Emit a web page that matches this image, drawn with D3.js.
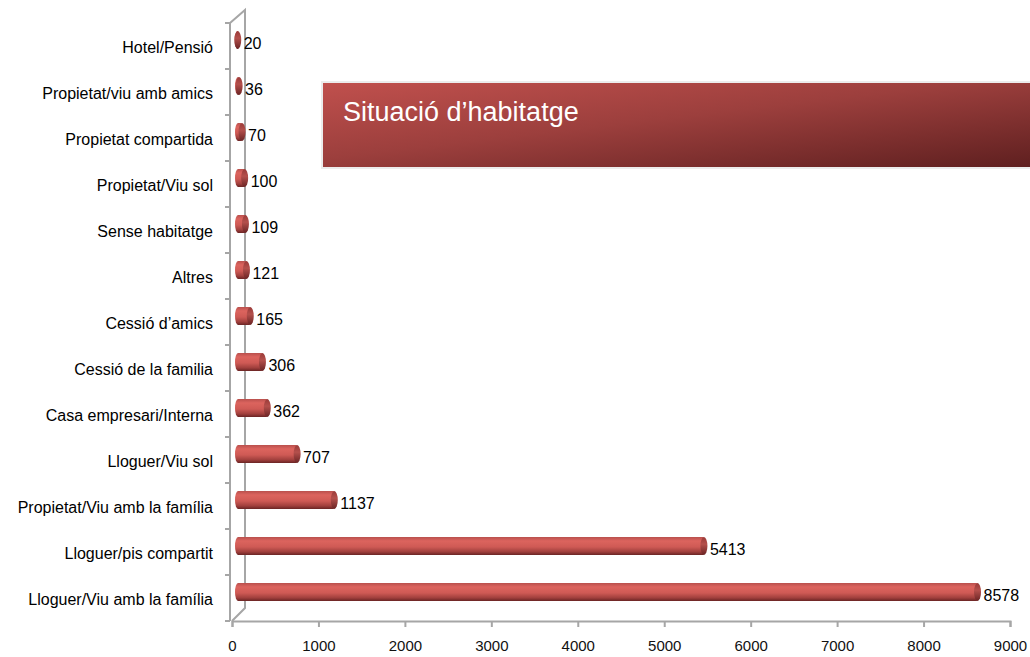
<!DOCTYPE html>
<html>
<head>
<meta charset="utf-8">
<script src="https://cdn.jsdelivr.net/npm/d3@7"></script>
<style>
  html, body { margin: 0; padding: 0; background: #fff; }
  #chart { width: 1030px; height: 657px; }
  text { font-family: "Liberation Sans", Arial, sans-serif; }
</style>
</head>
<body>
<div id="chart"></div>
<script>
var categories = [
  "Hotel/Pensió",
  "Propietat/viu amb amics",
  "Propietat compartida",
  "Propietat/Viu sol",
  "Sense habitatge",
  "Altres",
  "Cessió d’amics",
  "Cessió de la familia",
  "Casa empresari/Interna",
  "Lloguer/Viu sol",
  "Propietat/Viu amb la família",
  "Lloguer/pis compartit",
  "Lloguer/Viu amb la família"
];
var values = [20, 36, 70, 100, 109, 121, 165, 306, 362, 707, 1137, 5413, 8578];
var xTicks = [0, 1000, 2000, 3000, 4000, 5000, 6000, 7000, 8000, 9000];
var title = "Situació d’habitatge";

var width = 1030, height = 657;
var depth = 13;       // 3d wall offset
var barDx = 3, barDy = -6, barH = 18;
var axisColor = "#a6a6a6";

var svg = d3.select("#chart").append("svg")
  .attr("width", width)
  .attr("height", height);

var defs = svg.append("defs");
var barGrad = defs.append("linearGradient")
  .attr("id", "barGrad").attr("x1", 0).attr("y1", 0).attr("x2", 0).attr("y2", 1);
barGrad.append("stop").attr("offset", "0%").attr("stop-color", "#b9504d");
barGrad.append("stop").attr("offset", "22%").attr("stop-color", "#dc645e");
barGrad.append("stop").attr("offset", "55%").attr("stop-color", "#cf5a55");
barGrad.append("stop").attr("offset", "82%").attr("stop-color", "#a1403d");
barGrad.append("stop").attr("offset", "100%").attr("stop-color", "#6a2424");

var capGrad = defs.append("linearGradient")
  .attr("id", "capGrad").attr("x1", 0).attr("y1", 0).attr("x2", 0).attr("y2", 1);
capGrad.append("stop").attr("offset", "0%").attr("stop-color", "#9a3a38");
capGrad.append("stop").attr("offset", "40%").attr("stop-color", "#b4504c");
capGrad.append("stop").attr("offset", "100%").attr("stop-color", "#6a2424");

var titleGrad = defs.append("linearGradient")
  .attr("id", "titleGrad").attr("x1", 0).attr("y1", 0).attr("x2", 1).attr("y2", 1);
titleGrad.append("stop").attr("offset", "0%").attr("stop-color", "#c0504d");
titleGrad.append("stop").attr("offset", "45%").attr("stop-color", "#9c3f3d");
titleGrad.append("stop").attr("offset", "100%").attr("stop-color", "#5e1f1f");

var x = d3.scaleLinear().domain([0, 9000]).range([232, 1010]);
var y = d3.scaleBand().domain(categories).range([23, 621]);

var x0 = x(0), yBottom = y.range()[1], yTop = y.range()[0];

// back wall and floor edges
var walls = svg.append("g").attr("stroke", axisColor).attr("stroke-width", 2).attr("fill", "none");
walls.append("path")
  .attr("d", "M" + (x0 - 2) + "," + yTop + "L" + (x0 - 2 + depth + 2) + "," + (yTop - depth) +
             "L" + (x0 + depth) + "," + (yBottom - depth) + "L" + x0 + "," + yBottom);
walls.append("line")
  .attr("x1", x0 - 2).attr("y1", yTop).attr("x2", x0 - 2).attr("y2", yBottom);

// category boundaries ticks
var bounds = categories.map(function(c) { return y(c); }).concat([yBottom]);
walls.selectAll("line.tick").data(bounds).enter().append("line")
  .attr("class", "tick")
  .attr("x1", x0 - 7).attr("x2", x0 - 2)
  .attr("y1", function(d) { return d; }).attr("y2", function(d) { return d; });

// x axis
var xAxis = svg.append("g")
  .attr("transform", "translate(0," + yBottom + ")")
  .call(d3.axisBottom(x).tickValues(xTicks).tickSize(6).tickPadding(13).tickFormat(d3.format("d")));
xAxis.select(".domain").attr("stroke", axisColor).attr("stroke-width", 2);
xAxis.selectAll(".tick line").attr("stroke", axisColor).attr("stroke-width", 2);
xAxis.selectAll("text").attr("fill", "#111").style("font-size", "15px")
  .style("font-family", "'Liberation Sans', Arial, sans-serif");

// category labels
var yAxis = svg.append("g")
  .attr("transform", "translate(" + (x0 - 2) + ",0)")
  .call(d3.axisLeft(y).tickSize(0).tickPadding(17));
yAxis.select(".domain").remove();
yAxis.selectAll("text").attr("fill", "#000").attr("dy", "0.45em").style("font-size", "16px")
  .style("font-family", "'Liberation Sans', Arial, sans-serif");

// bars (cylinders)
var bars = svg.append("g").selectAll("g.bar")
  .data(categories.map(function(c, i) { return { cat: c, val: values[i] }; }))
  .enter().append("g").attr("class", "bar");

bars.append("rect")
  .attr("x", x0 + barDx)
  .attr("y", function(d) { return y(d.cat) + y.bandwidth() / 2 + barDy - barH / 2; })
  .attr("width", function(d) { return Math.max(x(d.val) - x0, 0) + 3; })
  .attr("height", barH)
  .attr("rx", 3).attr("ry", barH / 2)
  .attr("fill", "url(#barGrad)");

bars.append("ellipse")
  .attr("cx", function(d) { return x(d.val) + barDx + 1; })
  .attr("cy", function(d) { return y(d.cat) + y.bandwidth() / 2 + barDy; })
  .attr("rx", 3.5).attr("ry", barH / 2)
  .attr("fill", "url(#capGrad)");

bars.append("text")
  .attr("x", function(d) { return x(d.val) + barDx + 7; })
  .attr("y", function(d) { return y(d.cat) + y.bandwidth() / 2 + barDy + 3; })
  .attr("dy", "0.38em")
  .attr("fill", "#000")
  .style("font-size", "16px")
  .text(function(d) { return d.val; });

// title box
var tb = svg.append("g");
tb.append("rect")
  .attr("x", 321).attr("y", 81).attr("width", 720).attr("height", 88)
  .attr("fill", "#ececec");
tb.append("rect")
  .attr("x", 323).attr("y", 83).attr("width", 720).attr("height", 84)
  .attr("fill", "url(#titleGrad)");
tb.append("text")
  .attr("x", 343).attr("y", 121)
  .attr("fill", "#fff")
  .style("font-size", "27px")
  .text(title);
</script>
</body>
</html>
